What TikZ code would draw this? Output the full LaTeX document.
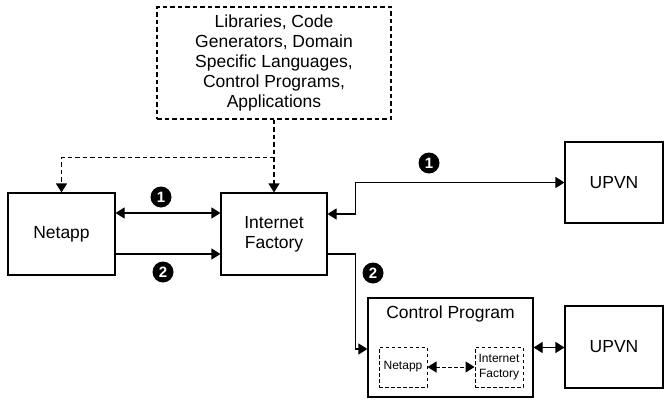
\documentclass[tikz,border=0pt]{standalone}
\usepackage{fontspec}
\setmainfont{Liberation Sans}
\usetikzlibrary{arrows.meta}
\begin{document}
\begin{tikzpicture}[x=1pt,y=-1pt,
  every node/.style={inner sep=0pt,align=center},
  box/.style={draw,line width=1.1pt,font=\fontsize{17.5}{20}\selectfont},
  title/.style={font=\fontsize{17.5}{20}\selectfont},
  dbox/.style={box,dashed,dash pattern=on 4.5pt off 3pt},
  smallbox/.style={draw,line width=1pt,dash pattern=on 3.5pt off 2.5pt,font=\fontsize{12}{15}\selectfont},
  conn/.style={line width=1.1pt,arrows={-{Triangle[length=9pt,width=11pt]}}},
  dconn/.style={line width=1.1pt,arrows={{Triangle[length=9pt,width=11pt]}-{Triangle[length=9pt,width=11pt]}}},
  dashconn/.style={conn,dash pattern=on 4.5pt off 3pt},
  num/.style={circle,fill=black,text=white,minimum size=21pt,font=\fontsize{15}{15}\selectfont\bfseries}
]
\useasboundingbox (0,0) rectangle (664,399);
\node[dbox,minimum width=234pt,minimum height=112pt] (lib) at (274,63)
  {Libraries, Code\\Generators, Domain\\Specific Languages,\\Control Programs,\\Applications};
\node[box,minimum width=107pt,minimum height=82pt] (netapp) at (61.5,234) {Netapp};
\node[box,minimum width=106pt,minimum height=82pt] (ifac) at (274,234) {Internet\\Factory};
\node[box,minimum width=98pt,minimum height=81pt] (upvna) at (614,182.5) {UPVN};
\node[box,minimum width=165pt,minimum height=99pt] (cp) at (450.5,347.5) {};
\node[title] (cptitle) at (450.5,314) {Control Program};
\node[box,minimum width=98pt,minimum height=82pt] (upvnb) at (614,347) {UPVN};
\node[smallbox,minimum width=48pt,minimum height=40pt] (innet) at (403,367) {Netapp};
\node[smallbox,minimum width=48pt,minimum height=40pt] (inif) at (499,367) {Internet\\Factory};

\draw[dashconn] (lib.south) -- (ifac.north);
\draw[dashconn] (lib.south) -- ++(0,38) -| (netapp.north);
\draw[dconn] ([yshift=21pt]netapp.east) -- ([yshift=21pt]ifac.west);
\draw[conn] ([yshift=-20pt]netapp.east) -- ([yshift=-20pt]ifac.west);
\draw[dconn] ([yshift=20pt]ifac.east) -- ++(28,0) |- (upvna.west);
\draw[conn] ([yshift=-20pt]ifac.east) -- ++(28,0) |- ([yshift=-1.5pt]cp.west);
\draw[dconn] (cp.east) -- (upvnb.west |- cp.east);
\draw[dconn,line width=1pt,dash pattern=on 3.5pt off 2.5pt] (innet.east) -- (inif.west);

\node[num] (n1a) at (161,197) {1};
\node[num] (n2a) at (163,272) {2};
\node[num] (n1b) at (429,163) {1};
\node[num] (n2b) at (373,273) {2};
\end{tikzpicture}
\end{document}
